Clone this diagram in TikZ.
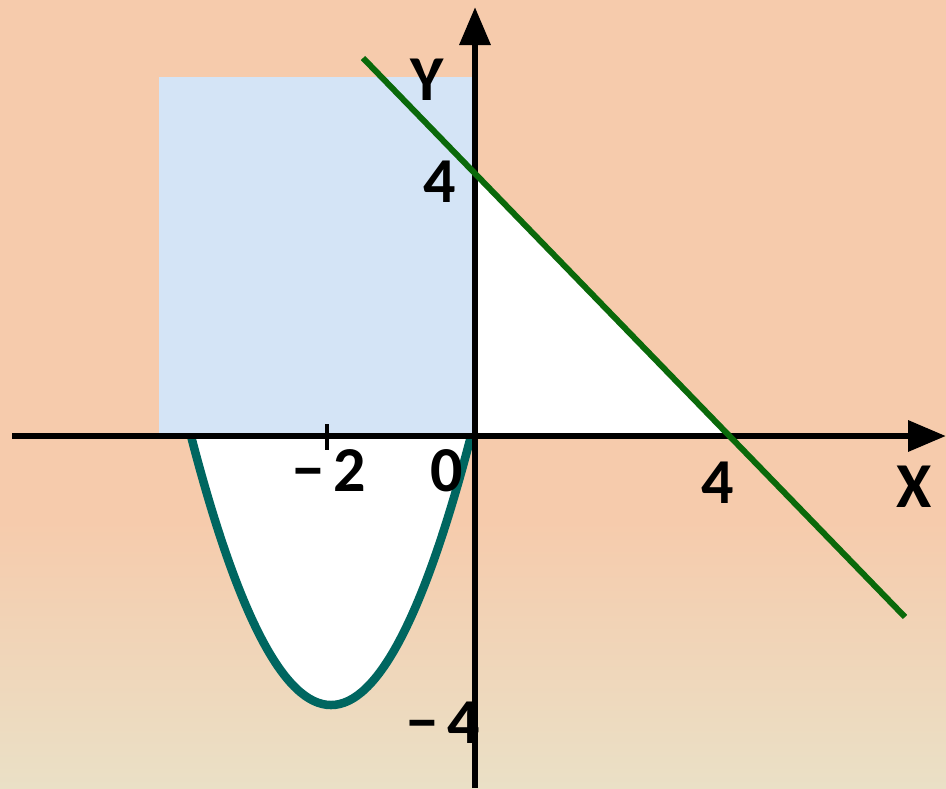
\documentclass[tikz,border=0pt]{standalone}
\usepackage{fontspec}
\setmainfont{Carlito}
\usetikzlibrary{arrows.meta}
\definecolor{peach}{RGB}{246,203,172}
\definecolor{beige}{RGB}{234,224,198}
\definecolor{skyblue}{RGB}{212,228,246}
\definecolor{linegreen}{RGB}{10,105,10}
\definecolor{curveteal}{RGB}{0,102,96}
\begin{document}
\begin{tikzpicture}[x=1pt,y=-1pt,
  axis/.style={line width=6.5pt,draw=black,-{Triangle[length=38pt,width=30pt]}},
  lbl/.style={inner sep=0pt,font=\fontsize{64}{64}\selectfont\bfseries,text=black}]
\useasboundingbox (0,0) rectangle (946,788);
% background
\fill[peach] (0,0) rectangle (946,788);
\shade[top color=peach,bottom color=beige] (0,520) rectangle (946,788);
% blue region
\fill[skyblue] (159,77) rectangle (473,436);
% white triangle
\coordinate (yint) at (475,174);
\coordinate (orig) at (475,436);
\coordinate (xint) at (730,436);
\fill[white] (yint) -- (orig) -- (xint) -- cycle;
% parabola
\coordinate (pl) at (191,436);
\coordinate (pr) at (471,436);
\fill[white] (pl) .. controls (284.3,794.7) and (377.7,794.7) .. (pr) -- cycle;
\draw[curveteal,line width=8.5pt] (pl) .. controls (284.3,794.7) and (377.7,794.7) .. (pr);
% axes
\coordinate (xs) at (12,436);
\coordinate (xe) at (946,436);
\coordinate (ys) at (475,788);
\coordinate (ye) at (475,7);
\draw[axis] (xs) -- (xe);
\draw[axis] (ys) -- (ye);
% tick at -2
\coordinate (t1) at (327,424);
\coordinate (t2) at (327,450);
\draw[line width=4.5pt] (t1) -- (t2);
% green line
\coordinate (g1) at (363,58);
\coordinate (g2) at (905,617);
\draw[linegreen,line width=6pt] (g1) -- (g2);
% labels
\node[lbl] (Ylab) at (427,80) {Y};
\node[lbl] (y4) at (440,182) {4};
\node[lbl] (xm2) at (329,471) {−\hspace{9pt}2};
\node[lbl] (o) at (447,471) {0};
\node[lbl] (x4) at (718,483) {4};
\node[lbl] (Xlab) at (914,487) {X};
\node[lbl] (ym4) at (443,723) {−\hspace{9pt}4};
\end{tikzpicture}
\end{document}
